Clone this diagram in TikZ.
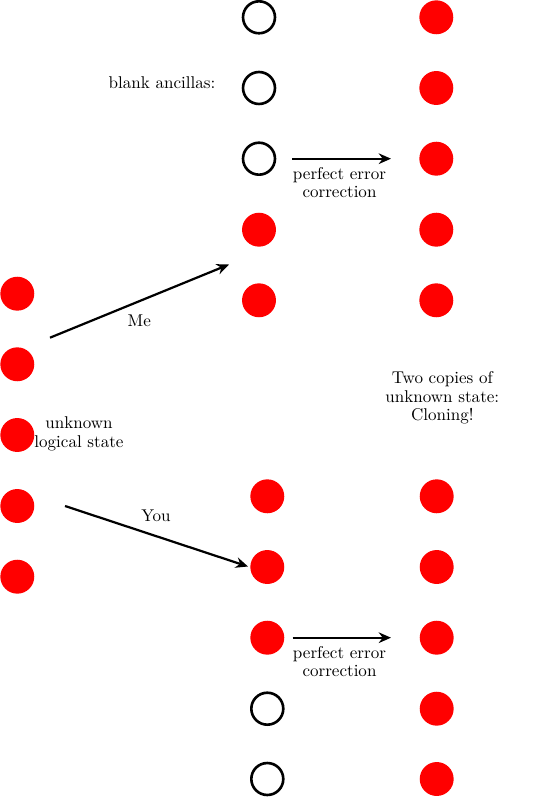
\documentclass[tikz,border=0pt]{standalone}
\usetikzlibrary{arrows.meta}
\begin{document}
\begin{tikzpicture}[x=0.61pt,y=-0.61pt,
  full/.style={circle,fill=red,minimum size=20.7pt,inner sep=0pt},
  blank/.style={circle,draw=black,line width=1.6pt,fill=white,minimum size=19.5pt,inner sep=0pt},
  arr/.style={line width=1.35pt,-{Stealth[length=7.5pt,width=6.5pt]}},
  lbl/.style={font=\fontsize{10.4}{11.2}\selectfont,align=center,inner sep=0pt}]
\useasboundingbox (0,0) rectangle (540,797);
% top middle column
\node[blank] (t1) at (259,17.3) {};
\node[blank] (t2) at (259,88) {};
\node[blank] (t3) at (259,158.7) {};
\node[full] (t4) at (259,229.7) {};
\node[full] (t5) at (259,300.3) {};
% top right column
\node[full] (r1) at (436.3,17.3) {};
\node[full] (r2) at (436.3,88) {};
\node[full] (r3) at (436.3,158.7) {};
\node[full] (r4) at (436.3,229.7) {};
\node[full] (r5) at (436.3,300.3) {};
% left column
\node[full] (l1) at (17.3,293.7) {};
\node[full] (l2) at (17.3,364.3) {};
\node[full] (l3) at (17.3,435) {};
\node[full] (l4) at (17.3,506) {};
\node[full] (l5) at (17.3,576.7) {};
% bottom middle column
\node[full] (b1) at (267.3,496.3) {};
\node[full] (b2) at (267.3,567) {};
\node[full] (b3) at (267.3,637.7) {};
\node[blank] (b4) at (267.3,708.7) {};
\node[blank] (b5) at (267.3,779) {};
% bottom right column
\node[full] (s1) at (436.7,496.3) {};
\node[full] (s2) at (436.7,567) {};
\node[full] (s3) at (436.7,637.7) {};
\node[full] (s4) at (436.7,708.7) {};
\node[full] (s5) at (436.7,779) {};
% labels
\node[lbl] (ba) at (162,83) {blank ancillas:};
\node[lbl] (ul) at (79,434) {unknown\\logical state};
\node[lbl] (tc) at (442.3,398) {Two copies of\\unknown state:\\Cloning!};
\node[lbl] (pe1) at (339.5,182.5) {perfect error\\correction};
\node[lbl] (pe2) at (339.5,661.5) {perfect error\\correction};
\node[lbl] (me) at (139.3,321) {Me};
\node[lbl] (you) at (156,515.3) {You};
% arrow end points
\coordinate (meA) at (50,337.7);
\coordinate (meB) at (229,264.5);
\coordinate (youA) at (65,506);
\coordinate (youB) at (248,566.5);
\coordinate (p1A) at (292.3,158.7);
\coordinate (p1B) at (391,158.7);
\coordinate (p2A) at (292.7,637.7);
\coordinate (p2B) at (391,637.7);
\draw[arr] (meA) -- (meB);
\draw[arr] (youA) -- (youB);
\draw[arr] (p1A) -- (p1B);
\draw[arr] (p2A) -- (p2B);
\end{tikzpicture}
\end{document}
